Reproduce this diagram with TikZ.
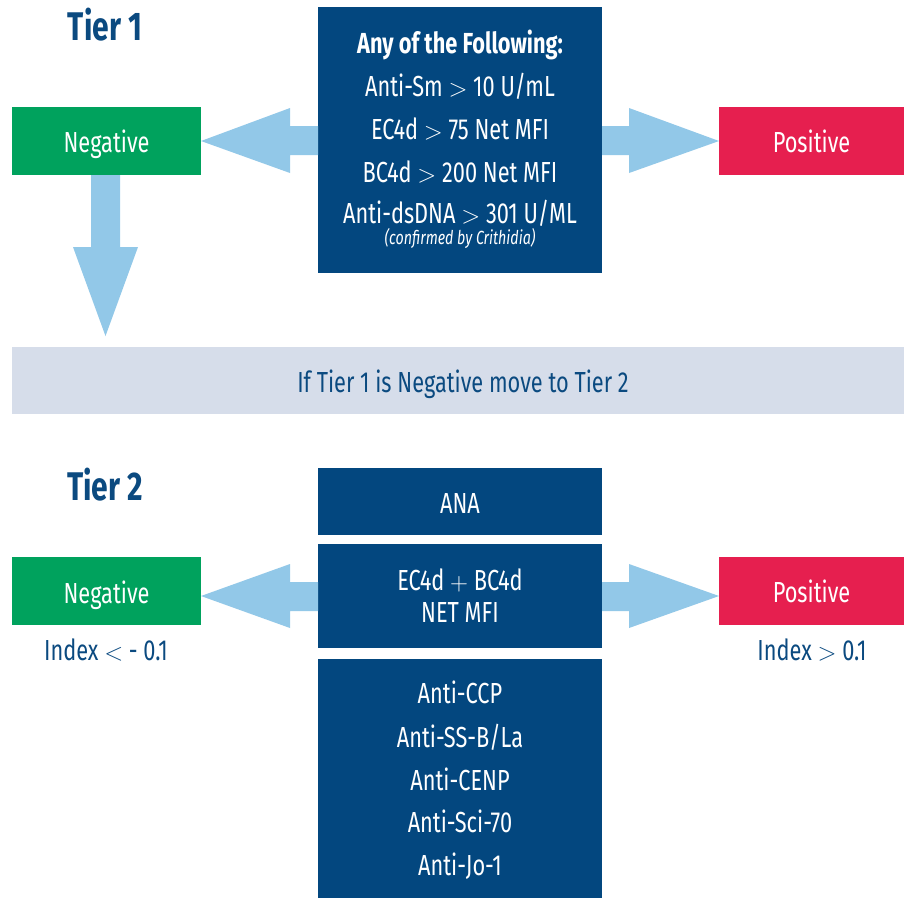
\documentclass[tikz,border=0pt]{standalone}
\usepackage{fontspec}
\setmainfont{Fira Sans}[FakeStretch=0.75]
\usetikzlibrary{calc}
\definecolor{dblue}{HTML}{03477F}
\definecolor{tgreen}{HTML}{00A25D}
\definecolor{tred}{HTML}{E61F4F}
\definecolor{lblue}{HTML}{92C8E8}
\definecolor{bandc}{HTML}{D6DDEA}
\definecolor{ttl}{HTML}{0B4A80}
\newcommand{\gtsym}{ $>$ }
\newcommand{\ltsym}{ $<$ }
\newcommand{\plussym}{ $+$ }
\begin{document}
\begin{tikzpicture}[x=1pt,y=-1pt,
  panel/.style={fill=dblue, inner sep=0pt, outer sep=0pt, anchor=north west},
  negbox/.style={fill=tgreen, inner sep=0pt, outer sep=0pt, anchor=north west, minimum width=189pt, minimum height=68pt},
  posbox/.style={fill=tred, inner sep=0pt, outer sep=0pt, anchor=north west, minimum width=185pt, minimum height=68pt},
  wtxt/.style={text=white, inner sep=0pt, anchor=base, font=\fontsize{29}{34}\selectfont},
  btxt/.style={text=ttl, inner sep=0pt, anchor=base, font=\fontsize{29}{34}\selectfont},
  ttltxt/.style={text=ttl, inner sep=0pt, anchor=base, font=\fontsize{40}{48}\selectfont\bfseries},
  fatarrow/.style={fill=lblue}]
\useasboundingbox (0,0) rectangle (904,898);
\fill[white] (0,0) rectangle (904,898);

% Tier 1
\node[ttltxt] (tier1) at (105,40) {Tier 1};
\node[panel, minimum width=284pt, minimum height=266pt] (t1box) at (318,7) {};
\node[wtxt, font=\fontsize{29}{34}\selectfont\bfseries] (t1l0) at (460,53) {Any of the Following:};
\node[wtxt] (t1l1) at (460,96) {Anti-Sm\gtsym 10 U/mL};
\node[wtxt] (t1l2) at (460,139) {EC4d\gtsym 75 Net MFI};
\node[wtxt] (t1l3) at (460,182) {BC4d\gtsym 200 Net MFI};
\node[wtxt] (t1l4) at (460,223) {Anti-dsDNA\gtsym 301 U/ML};
\node[wtxt, font=\fontsize{19}{22}\selectfont\itshape] (t1l5) at (460,244) {(confirmed by Crithidia)};

\node[negbox] (n1) at (12,107) {};
\node[wtxt] (n1t) at (106.5,152) {Negative};
\node[posbox] (p1) at (719,107) {};
\node[wtxt] (p1t) at (811.5,152) {Positive};

\fill[fatarrow] (n1.east) -- ++(89,-33) -- ++(0,18) -- ++(28,0) -- ++(0,29) -- ++(-28,0) -- ++(0,18) -- cycle;
\fill[fatarrow] (p1.west) -- ++(-90,-33) -- ++(0,18) -- ++(-27,0) -- ++(0,29) -- ++(27,0) -- ++(0,18) -- cycle;
\fill[fatarrow] ($(n1.south)+(-15.5,0)$) -- ++(0,72) -- ++(-18,0) -- ++(32.5,89) -- ++(32.5,-89) -- ++(-18,0) -- ++(0,-72) -- cycle;

% band
\node[fill=bandc, inner sep=0pt, outer sep=0pt, anchor=north west, minimum width=892pt, minimum height=67pt] (band) at (12,347) {};
\node[btxt] (bandt) at (463,392) {If Tier 1 is Negative move to Tier 2};

% Tier 2
\node[ttltxt] (tier2) at (105,500) {Tier 2};
\node[panel, minimum width=284pt, minimum height=67pt] (ana) at (318,468) {};
\node[wtxt] (anat) at (460,513) {ANA};
\node[panel, minimum width=284pt, minimum height=104pt] (mfi) at (318,544) {};
\node[wtxt] (mfit1) at (460,590) {EC4d\plussym BC4d};
\node[wtxt] (mfit2) at (460,622) {NET MFI};
\node[panel, minimum width=284pt, minimum height=239pt] (abs) at (318,659) {};
\node[wtxt] (ab1) at (460,703) {Anti-CCP};
\node[wtxt] (ab2) at (460,747) {Anti-SS-B/La};
\node[wtxt] (ab3) at (460,790) {Anti-CENP};
\node[wtxt] (ab4) at (460,832) {Anti-Sci-70};
\node[wtxt] (ab5) at (460,875) {Anti-Jo-1};

\node[negbox] (n2) at (12,557) {};
\node[wtxt] (n2t) at (106.5,603) {Negative};
\node[btxt] (n2i) at (106,660) {Index\ltsym - 0.1};
\node[posbox] (p2) at (719,557) {};
\node[wtxt] (p2t) at (811.5,602) {Positive};
\node[btxt] (p2i) at (812,660) {Index\gtsym 0.1};

\fill[fatarrow] ($(n2.east)+(0,5)$) -- ++(89,-32) -- ++(0,18) -- ++(28,0) -- ++(0,29) -- ++(-28,0) -- ++(0,17) -- cycle;
\fill[fatarrow] ($(p2.west)+(0,5)$) -- ++(-90,-32) -- ++(0,18) -- ++(-27,0) -- ++(0,29) -- ++(27,0) -- ++(0,17) -- cycle;
\end{tikzpicture}
\end{document}
